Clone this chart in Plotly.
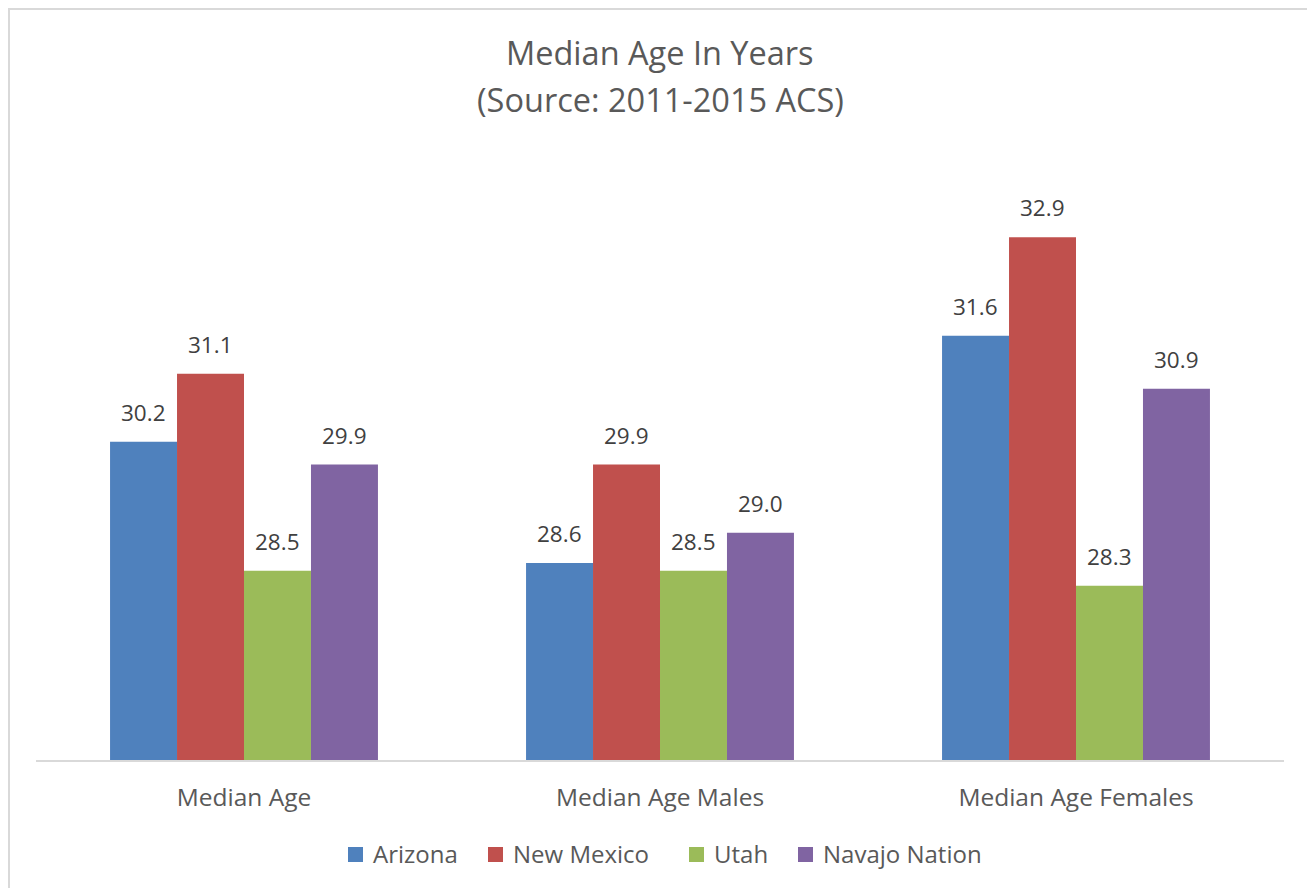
import plotly.graph_objects as go

categories = ["Median Age", "Median Age Males", "Median Age Females"]
series_names = ["Arizona", "New Mexico", "Utah", "Navajo Nation"]
arizona = [30.2, 28.6, 31.6]
new_mexico = [31.1, 29.9, 32.9]
utah = [28.5, 28.5, 28.3]
navajo = [29.9, 29.0, 30.9]
colors = ["#4F81BD", "#C0504D", "#9BBB59", "#8064A2"]
title_lines = ["Median Age In Years", "(Source: 2011-2015 ACS)"]

# page has an 8px body margin; figure coordinates = page coordinates - 8
OFF = 8
W, H = 1307, 880
L = 36 - OFF
R = W - (1284 - OFF)
T = 154 - OFF
B = H - (760 - OFF)
pw, ph = W - L - R, H - T - B

def fx(x):  # figure px -> paper
    return (x - L) / pw

def fy(y):  # figure px -> paper
    return (H - B - y) / ph

def px_x(x):  # page px -> paper
    return fx(x - OFF)

def px_y(y):
    return fy(y - OFF)

FONT = "Open Sans"
fig = go.Figure()
all_series = [arizona, new_mexico, utah, navajo]
for name, vals, col in zip(series_names, all_series, colors):
    fig.add_trace(go.Bar(
        name=name, x=categories, y=vals, marker=dict(color=col, line=dict(width=0)),
        showlegend=False,
    ))

bargap = 0.356
bar_w = (1 - bargap) / 4
annotations = []
for i, vals in enumerate(all_series):
    for j, v in enumerate(vals):
        annotations.append(dict(
            x=j + (i - 1.5) * bar_w, y=v, xref="x", yref="y",
            text=f"{v:.1f}", showarrow=False, yanchor="bottom", yshift=12,
            font=dict(family=FONT, size=22.5, color="#404040"),
        ))

for line, yc in zip(title_lines, [53, 100]):
    annotations.append(dict(
        x=px_x(660), y=px_y(yc), xref="paper", yref="paper", text=line,
        showarrow=False, xanchor="center", yanchor="middle",
        font=dict(family=FONT, size=32.5, color="#595959"),
    ))

# manual legend (square left edges on the page)
legend_x = [348, 488, 689, 798]
legend_y = 854.5
sq = 15
shapes = []
for name, col, lx in zip(series_names, colors, legend_x):
    shapes.append(dict(type="rect", xref="paper", yref="paper",
                       x0=px_x(lx), x1=px_x(lx + sq),
                       y0=px_y(legend_y + sq / 2), y1=px_y(legend_y - sq / 2),
                       line=dict(width=0), fillcolor=col))
    annotations.append(dict(
        x=px_x(lx + sq + 8), y=px_y(legend_y - 1), xref="paper", yref="paper", text=name,
        showarrow=False, xanchor="left", yanchor="middle",
        font=dict(family=FONT, size=24, color="#595959"),
    ))

shapes.append(dict(type="rect", xref="paper", yref="paper",
                   x0=fx(1), x1=fx(1305), y0=fy(H + 10), y1=fy(1),
                   line=dict(color="#D9D9D9", width=2), fillcolor="rgba(0,0,0,0)"))

fig.update_layout(
    width=W, height=H,
    margin=dict(l=L, r=R, t=T, b=B),
    paper_bgcolor="white", plot_bgcolor="white",
    barmode="group", bargap=bargap, bargroupgap=0,
    showlegend=False,
    xaxis=dict(type="category", showline=True, linecolor="#D9D9D9", linewidth=1.5,
               showgrid=False, ticks="", ticklabelstandoff=15,
               tickfont=dict(family=FONT, size=24.5, color="#595959")),
    yaxis=dict(range=[26, 34], visible=False, showgrid=False, zeroline=False),
    annotations=annotations,
    shapes=shapes,
)
fig.write_html("out.html")
